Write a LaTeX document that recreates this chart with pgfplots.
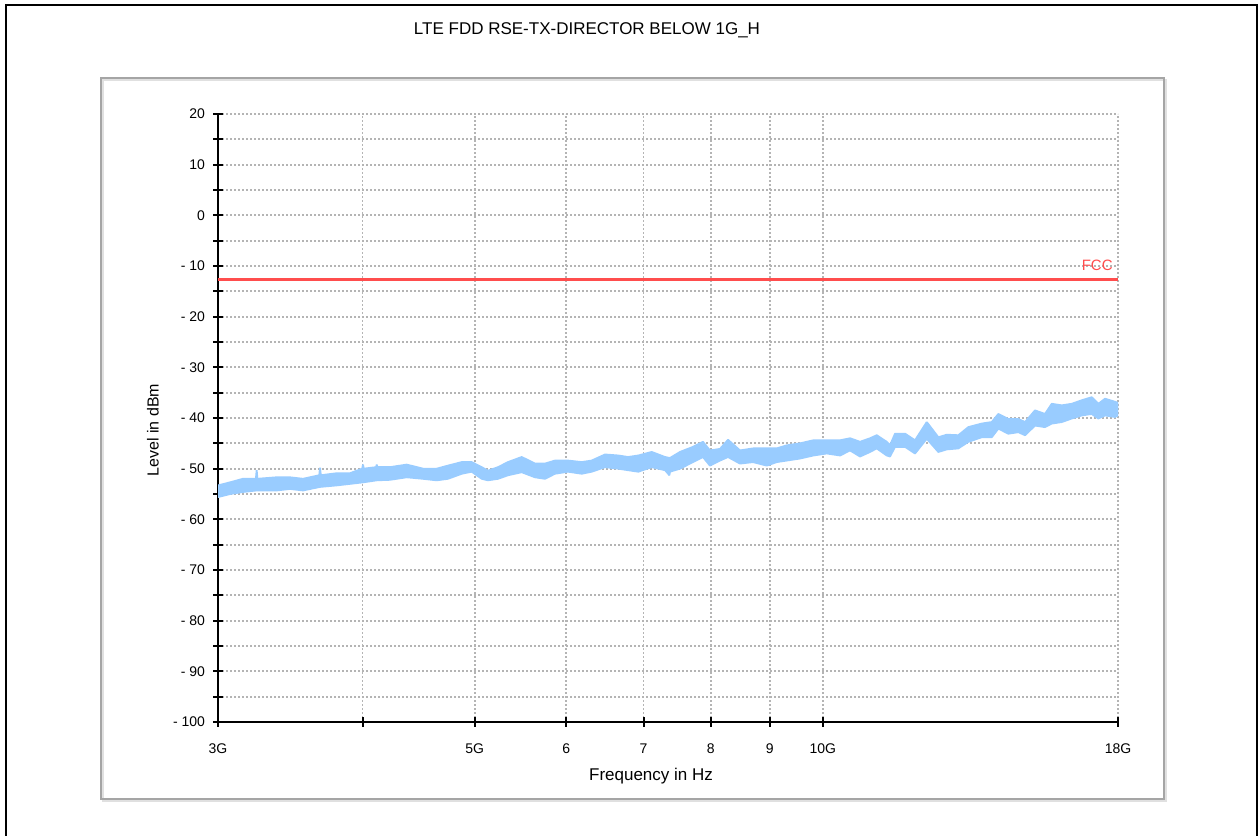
\documentclass[border=0pt]{standalone}
\usepackage{fontspec}
\setmainfont{Liberation Sans}
\usepackage{pgfplots}
\pgfplotsset{compat=1.18}
\definecolor{trace}{RGB}{153,204,255}
\definecolor{fcc}{RGB}{255,77,77}
\definecolor{gridc}{RGB}{180,180,180}
\definecolor{frameg}{RGB}{165,165,165}
\begin{document}
\begin{tikzpicture}[x=1pt,y=1pt]
\useasboundingbox (0,0) rectangle (630,418);
\fill[white] (0,0) rectangle (630,418);
\draw[black, line width=1.2pt] (3,0) -- (3,415.5) -- (628.5,415.5) -- (628.5,0);
\draw[black!12, line width=1pt] (51.5,17.5) rectangle (583,378);
\draw[frameg, line width=0.9pt] (50.5,18.5) rectangle (582,379);
\begin{axis}[
  at={(109pt,57pt)}, anchor=south west,
  scale only axis, width=450pt, height=304pt,
  xmode=log, xmin=3, xmax=18, ymin=-100, ymax=20,
  axis lines*=left,
  axis line style={line width=1pt, black},
  xtick={3,4,5,6,7,8,9,10,18},
  xticklabels={3G,,5G,6,7,8,9,10G,18G},
  minor xtick={},
  ytick={-100,-90,...,20},
  minor ytick={-95,-85,...,15},
  yticklabels={- 100,- 90,- 80,- 70,- 60,- 50,- 40,- 30,- 20,- 10,0,10,20},
  grid=both,
  major grid style={gridc, dash pattern=on 0.8pt off 1.2pt, line width=0.9pt},
  minor grid style={gridc, dash pattern=on 0.8pt off 1.2pt, line width=0.9pt},
  tick align=center, major tick length=5pt, minor tick length=5pt,
  tick style={black, line width=1pt},
  ticklabel style={font=\fontsize{7}{8}\selectfont},
  xticklabel style={anchor=north, yshift=-5pt},
  yticklabel style={anchor=east, xshift=-0.5pt},
  /pgf/number format/assume math mode=true,
  clip=true,
]
\addplot[draw=trace, fill=trace, line width=0.9pt, line join=bevel] coordinates {
(3.000,-53.3) (3.073,-52.7) (3.153,-52.0) (3.235,-52.0) (3.240,-50.3) (3.245,-52.0)
(3.372,-51.7) (3.462,-51.7) (3.553,-52.0) (3.670,-51.3) (3.676,-49.8) (3.682,-51.3)
(3.800,-50.9) (3.902,-50.9) (3.998,-50.0) (4.004,-49.2) (4.010,-50.0)
(4.110,-49.7) (4.115,-49.2) (4.120,-49.7) (4.225,-49.7) (4.368,-49.2)
(4.512,-50.0) (4.637,-50.0) (4.742,-49.4) (4.874,-48.7) (4.971,-48.7)
(5.071,-49.7) (5.135,-50.4) (5.239,-49.7) (5.344,-48.7) (5.492,-47.7)
(5.639,-49.0) (5.752,-49.0) (5.868,-48.4) (6.022,-48.4) (6.189,-48.7)
(6.313,-48.4) (6.483,-47.2) (6.656,-47.4) (6.786,-47.7) (6.927,-47.4)
(7.114,-46.7) (7.305,-47.7) (7.378,-47.9) (7.527,-46.7) (7.724,-45.7)
(7.879,-44.7) (7.990,-46.4) (8.150,-46.1) (8.281,-44.3) (8.481,-46.4)
(8.704,-46.0) (8.944,-46.0) (9.124,-46.0) (9.308,-45.4) (9.557,-45.0)
(9.814,-44.4) (10.079,-44.4) (10.350,-44.4) (10.558,-44.0) (10.770,-44.7)
(10.987,-44.0) (11.134,-43.4) (11.358,-44.7) (11.433,-45.4) (11.547,-43.1)
(11.780,-43.1) (12.016,-44.4) (12.300,-40.8) (12.587,-43.8) (12.799,-43.3)
(13.098,-43.4) (13.362,-41.8) (13.723,-41.1) (13.999,-40.8) (14.184,-39.2)
(14.469,-40.2) (14.760,-40.2) (14.959,-40.8) (15.259,-38.5) (15.566,-39.2)
(15.775,-37.2) (16.093,-37.5) (16.416,-37.2) (16.746,-36.5) (17.083,-35.9)
(17.309,-37.2) (17.542,-36.2) (17.894,-36.8) (18.000,-37.0)
(18.000,-39.5) (17.894,-39.8) (17.542,-39.5) (17.309,-40.1) (17.083,-39.2)
(16.746,-39.5) (16.416,-40.1) (16.093,-40.8) (15.775,-41.1) (15.566,-41.8)
(15.259,-41.5) (14.959,-43.4) (14.760,-42.8) (14.469,-43.1) (14.184,-42.1)
(13.999,-43.8) (13.723,-43.8) (13.362,-44.7) (13.098,-46.0) (12.799,-46.2)
(12.587,-46.7) (12.300,-44.1) (12.016,-47.0) (11.780,-45.7) (11.547,-45.7)
(11.433,-47.6) (11.358,-47.4) (11.134,-46.0) (10.987,-46.7) (10.770,-47.6)
(10.558,-46.4) (10.350,-47.4) (10.079,-47.0) (9.814,-47.4) (9.557,-48.0)
(9.308,-48.4) (9.124,-48.7) (8.944,-49.4) (8.704,-48.7) (8.481,-49.0)
(8.281,-47.7) (8.150,-48.4) (7.990,-49.4) (7.879,-47.7) (7.724,-48.7)
(7.527,-50.0) (7.378,-50.6) (7.370,-51.3) (7.305,-50.3) (7.114,-49.7)
(6.927,-50.6) (6.786,-50.3) (6.656,-50.0) (6.483,-49.7) (6.313,-50.6)
(6.189,-51.0) (6.022,-50.6) (5.868,-51.0) (5.752,-52.0) (5.639,-51.7)
(5.492,-50.7) (5.344,-51.3) (5.239,-52.0) (5.135,-52.3) (5.071,-52.0)
(4.971,-50.6) (4.874,-51.0) (4.742,-52.0) (4.637,-52.3) (4.512,-52.0)
(4.368,-51.7) (4.225,-52.2) (4.115,-52.3) (4.004,-52.7) (3.902,-53.0)
(3.800,-53.3) (3.676,-53.6) (3.553,-54.3) (3.462,-54.0) (3.372,-54.3)
(3.240,-54.3) (3.153,-54.6) (3.073,-55.0) (3.000,-55.6)
} -- cycle;
\addplot[fcc, line width=1.6pt] coordinates {(3,-12.7) (18,-12.7)};
\node[fcc, anchor=south east, inner sep=0pt, font=\fontsize{7.5}{8}\selectfont, xshift=-2.5pt, yshift=4.5pt] at (axis cs:18,-12.7) {FCC};
\end{axis}
\node[font=\fontsize{8.5}{9}\selectfont] at (293.5,403) {LTE FDD RSE-TX-DIRECTOR BELOW 1G\_H};
\node[font=\fontsize{8.5}{9}\selectfont] at (325.5,30) {Frequency in Hz};
\node[font=\fontsize{8}{9}\selectfont, rotate=90] at (76.5,203) {Level in dBm};
\end{tikzpicture}
\end{document}
